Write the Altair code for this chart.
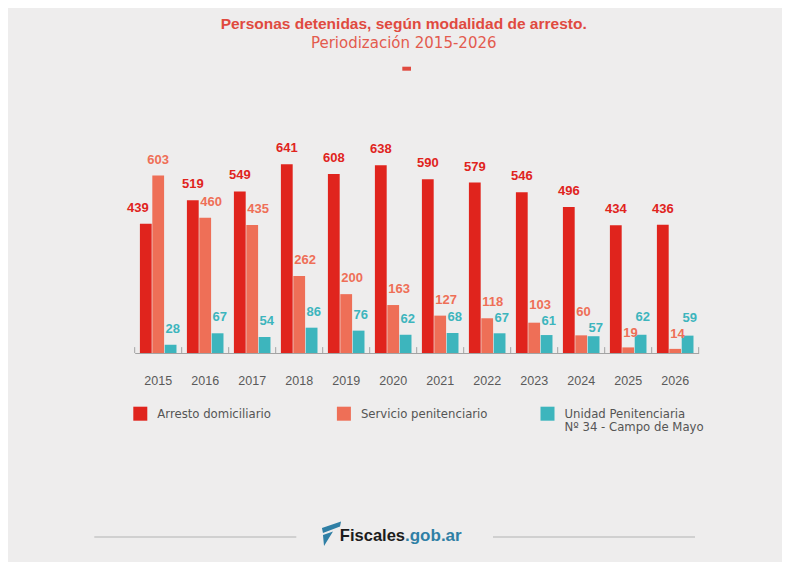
import altair as alt
import pandas as pd

YEARS = ["2015", "2016", "2017", "2018", "2019", "2020", "2021", "2022", "2023", "2024", "2025", "2026"]
ARRESTO = [439, 519, 549, 641, 608, 638, 590, 579, 546, 496, 434, 436]
SERVICIO = [603, 460, 435, 262, 200, 163, 127, 118, 103, 60, 19, 14]
UNIDAD = [28, 67, 54, 86, 76, 62, 68, 67, 61, 57, 62, 59]
SERIES = ["Arresto domiciliario", "Servicio penitenciario", "Unidad Penitenciaria\nNº 34 - Campo de Mayo"]
COLORS = ["#e0241d", "#ee6f57", "#3db5bd"]

rows = []
for i, yr in enumerate(YEARS):
    for s, vals in zip(SERIES, [ARRESTO, SERVICIO, UNIDAD]):
        rows.append({"year": yr, "serie": s, "value": vals[i]})
df = pd.DataFrame(rows)

AXIS = alt.Axis(title=None, domainColor="#a3a3a3", domainWidth=1, ticks=False, tickSize=0,
                labelPadding=31, labelFont="Liberation Sans", labelFontSize=12.5,
                labelColor="#5a5a5a", labelAngle=0, labelBaseline="alphabetic", grid=False)
XSCALE = alt.Scale(paddingInner=0, paddingOuter=0)


def xenc(**kw):
    return alt.X("year:O", sort=YEARS, scale=XSCALE, axis=AXIS, **kw)


xoff = alt.XOffset("serie:N", sort=SERIES, scale=alt.Scale(domain=SERIES, paddingInner=0.05, paddingOuter=0.42))
yscale = alt.Scale(domain=[0, 700])
color = alt.Color("serie:N", scale=alt.Scale(domain=SERIES, range=COLORS), legend=None)

bars = alt.Chart(df).mark_bar().encode(
    x=xenc(), xOffset=xoff, y=alt.Y("value:Q", scale=yscale, axis=None), color=color
)

IS_R = "datum.serie == 'Arresto domiciliario'"
IS_S = "datum.serie == 'Servicio penitenciario'"
IS_T = "indexof(datum.serie, 'Unidad') == 0"

# label placement: a small vertical nudge when the two short-bar labels of a year collide
lab_base = (
    alt.Chart(df)
    .transform_calculate(
        rv=f"{IS_R} ? datum.value : 0",
        sv=f"{IS_S} ? datum.value : 0",
        tv=f"{IS_T} ? datum.value : 0",
    )
    .transform_joinaggregate(R="sum(rv)", S="sum(sv)", T="sum(tv)", groupby=["year"])
    .transform_calculate(sh="abs(datum.S - datum.T) < 54 ? (54 - abs(datum.S - datum.T)) / 2 : 0")
    .transform_calculate(
        ly=f"{IS_S} ? datum.value + (datum.S >= datum.T ? 1 : -1) * datum.sh"
           f" : ({IS_T} ? datum.value + (datum.T > datum.S ? 1 : -1) * datum.sh : datum.value)"
    )
)

TXT = dict(baseline="alphabetic", dy=-12, font="Liberation Sans", fontSize=13, fontWeight="bold")
LAB_ENC = dict(x=xenc(), xOffset=xoff, y=alt.Y("ly:Q", scale=yscale, axis=None), text="value:Q", color=color)

lab_center = lab_base.transform_filter(
    f"({IS_R} && datum.S <= datum.value) || ({IS_S} && datum.value > datum.R)"
).mark_text(align="center", **TXT).encode(**LAB_ENC)

lab_right = lab_base.transform_filter(
    f"{IS_R} && datum.S > datum.value"
).mark_text(align="right", dx=3, **TXT).encode(**LAB_ENC)

lab_left = lab_base.transform_filter(
    f"({IS_S} && datum.value <= datum.R) || {IS_T}"
).mark_text(align="left", dx=-5, **TXT).encode(**LAB_ENC)

tick_df = pd.DataFrame({"year": YEARS})
ticks = alt.Chart(tick_df).mark_rule(color="#a3a3a3", strokeWidth=1).encode(
    x=xenc(bandPosition=0), y=alt.datum(0), y2=alt.datum(20)
)
end_tick = alt.Chart(tick_df).transform_filter(f"datum.year == '{YEARS[-1]}'").mark_rule(
    color="#a3a3a3", strokeWidth=1
).encode(x=xenc(bandPosition=1), y=alt.datum(0), y2=alt.datum(20))

inner = alt.layer(bars, lab_center, lab_right, lab_left, ticks, end_tick)

# legend drawn from the series list
leg_df = pd.DataFrame({"serie": SERIES})
leg_x = alt.X("serie:N", sort=SERIES,
              scale=alt.Scale(type="point", domain=SERIES, range=[5.6, 412.8], padding=0), axis=None)
leg_sq = alt.Chart(leg_df).mark_square(size=196, opacity=1, strokeWidth=0).encode(
    x=leg_x, y=alt.value(266.7), color=color
)
leg_tx = alt.Chart(leg_df).mark_text(
    align="left", baseline="top", dx=17, lineBreak="\n", lineHeight=13.4,
    font="DejaVu Sans", fontSize=11.7, color="#555555"
).encode(x=leg_x, y=alt.value(262.1), text="serie:N")

one = pd.DataFrame({"k": [0]})
line_l = alt.Chart(one).mark_rule(color="#c6c6c6", strokeWidth=1.5).encode(
    x=alt.value(-40.4), x2=alt.value(161.6), y=alt.value(390)
)
line_r = alt.Chart(one).mark_rule(color="#c6c6c6", strokeWidth=1.5).encode(
    x=alt.value(358.3), x2=alt.value(560.3), y=alt.value(390)
)
LOGO = "M-0.72,-0.45 L0.75,-0.95 L0.67,-0.57 L-0.64,-0.07 Z M-0.64,0.08 L0.13,-0.18 L-0.56,0.93 Z"
logo = alt.Chart(one).mark_point(shape=LOGO, size=676, filled=True, color="#2f7fa5", opacity=1, strokeWidth=0).encode(
    x=alt.value(196.6), y=alt.value(386.9)
)
fisc = alt.Chart(one).mark_text(
    text="Fiscales", align="right", baseline="alphabetic", font="Liberation Sans", fontSize=16.5,
    fontWeight="bold", color="#1c1c1c"
).encode(x=alt.value(270.3), y=alt.value(393.7))
gob = alt.Chart(one).mark_text(
    text=".gob.ar", align="left", baseline="alphabetic", font="Liberation Sans", fontSize=17,
    fontWeight="bold", color="#2f7fa5"
).encode(x=alt.value(270.3), y=alt.value(393.7))
dash = alt.Chart(one).mark_rule(color="#e04a3f", strokeWidth=4).encode(
    x=alt.value(267.6), x2=alt.value(276.3), y=alt.value(-78.3)
)

chart = alt.layer(inner, leg_sq, leg_tx, line_l, line_r, logo, fisc, gob, dash).resolve_scale(
    x="independent"
).properties(
    width=564,
    height=206,
    title=alt.TitleParams(
        text="Personas detenidas, según modalidad de arresto.",
        subtitle="Periodización 2015-2026",
        font="Liberation Sans", fontSize=15.5, fontWeight="bold", color="#e04a3f",
        subtitleFont="DejaVu Sans", subtitleFontSize=15, subtitleColor="#e35b4e",
        subtitlePadding=3, anchor="middle", dx=-13, offset=16,
    ),
    autosize=alt.AutoSizeParams(type="none"),
    padding={"left": 126.7, "top": 139, "right": 83.3, "bottom": 209},
    background="#eeeded",
).configure_view(stroke=None)

chart.save("out.html", embed_options={"renderer": "svg", "actions": False})
